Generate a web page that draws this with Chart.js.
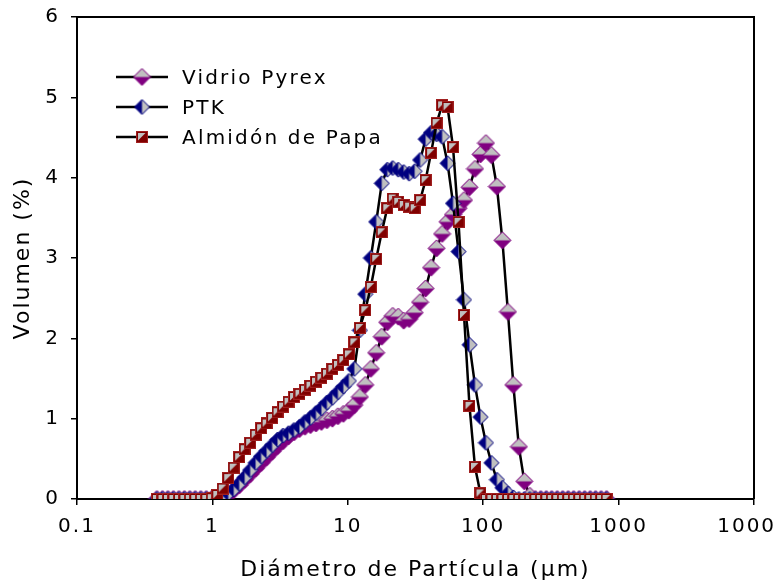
<!DOCTYPE html>
<html><head><meta charset="utf-8">
<script src="https://cdn.jsdelivr.net/npm/chart.js@4.4.1/dist/chart.umd.min.js"></script>
<style>
html,body{margin:0;padding:0;background:#fff;}
#wrap{position:relative;width:776px;height:583px;overflow:hidden;}
#legend{position:absolute;left:116px;top:62px;font-family:"DejaVu Sans",Verdana,sans-serif;font-size:20px;color:#000;letter-spacing:2.2px;}
.row{display:flex;align-items:center;height:30px;}
.row canvas{display:block;margin-right:14px;}
</style></head><body>
<div id="wrap"><canvas id="c" width="776" height="583"></canvas><div id="legend"></div></div>
<script>
// Particle diameter classes (µm)
const sizes = [0.389,0.428,0.469,0.515,0.566,0.621,0.681,0.747,0.821,0.901,0.989,1.086,1.192,1.308,1.437,1.577,1.730,1.900,2.085,2.289,2.513,2.759,3.028,3.325,3.650,4.006,4.397,4.828,5.299,5.817,6.386,7.010,7.695,8.447,9.272,10.18,11.18,12.27,13.46,14.78,16.22,17.81,19.56,21.47,23.56,25.87,28.39,31.17,34.21,37.56,41.23,45.26,49.68,54.54,59.87,65.72,72.14,79.20,86.93,95.43,104.7,115.0,126.2,138.6,152.2,167.0,183.3,201.3,220.9,242.5,266.2,292.2,320.7,352.1,386.6,424.3,465.9,511.3,561.4,616.2,676.4,742.5,815.0];
// Volumen (%)
const vidrio = [0,0,0,0,0,0,0,0,0,0,0,0,0.02,0.06,0.11,0.17,0.24,0.31,0.38,0.45,0.52,0.59,0.66,0.72,0.78,0.83,0.87,0.90,0.92,0.94,0.96,0.98,1.00,1.03,1.06,1.10,1.17,1.27,1.42,1.62,1.82,2.02,2.20,2.28,2.27,2.22,2.24,2.32,2.45,2.62,2.88,3.12,3.30,3.45,3.54,3.62,3.72,3.88,4.11,4.29,4.43,4.28,3.89,3.22,2.33,1.42,0.65,0.22,0.04,0,0,0,0,0,0,0,0,0,0,0,0,0,0];
const ptk = [0,0,0,0,0,0,0,0,0,0,0,0,0.03,0.07,0.12,0.19,0.27,0.36,0.45,0.53,0.60,0.67,0.74,0.79,0.82,0.86,0.90,0.96,1.01,1.07,1.13,1.20,1.26,1.33,1.40,1.47,1.62,2.10,2.55,3.00,3.45,3.93,4.10,4.12,4.10,4.07,4.05,4.08,4.22,4.48,4.56,4.54,4.51,4.18,3.68,3.08,2.48,1.92,1.42,1.02,0.70,0.45,0.24,0.14,0.07,0.02,0,0,0,0,0,0,0,0,0,0,0,0,0,0,0,0,0];
const almidon = [0,0,0,0,0,0,0,0,0,0,0.01,0.05,0.13,0.26,0.39,0.52,0.62,0.70,0.80,0.88,0.94,1.01,1.08,1.15,1.21,1.27,1.31,1.36,1.41,1.46,1.51,1.56,1.62,1.67,1.73,1.80,1.95,2.13,2.35,2.64,2.99,3.32,3.62,3.74,3.70,3.66,3.64,3.62,3.72,3.97,4.31,4.68,4.90,4.88,4.38,3.45,2.29,1.16,0.40,0.07,0,0,0,0,0,0,0,0,0,0,0,0,0,0,0,0,0,0,0,0,0,0,0];
const seriesNames = ['Vidrio Pyrex','PTK','Almidón de Papa'];
const xTicks = [0.1,1,10,100,1000,10000];
const xTickLabels = ['0.1','1','10','100','1000','10000'];
const yTickLabels = ['0','1','2','3','4','5','6'];
const xTitle = 'Diámetro de Partícula (µm)';
const yTitle = 'Volumen (%)';

const GRAY = '#C0C0C0', PURPLE = '#800080', NAVY = '#000080', DRED = '#800000';

function diamondPurple(r){
  const s = Math.ceil(2*r+2), c = document.createElement('canvas'); c.width = s; c.height = s;
  const g = c.getContext('2d'), m = s/2;
  g.beginPath(); g.moveTo(m,m-r); g.lineTo(m+r,m); g.lineTo(m,m+r); g.lineTo(m-r,m); g.closePath();
  g.fillStyle = PURPLE; g.fill();
  g.beginPath(); g.moveTo(m,m-r); g.lineTo(m+r,m); g.lineTo(m-r,m); g.closePath();
  g.fillStyle = GRAY; g.fill();
  g.beginPath(); g.moveTo(m,m-r); g.lineTo(m+r,m); g.lineTo(m,m+r); g.lineTo(m-r,m); g.closePath();
  g.strokeStyle = PURPLE; g.lineWidth = 1; g.stroke();
  return c;
}
function diamondBlue(r){
  const s = Math.ceil(2*r+2), c = document.createElement('canvas'); c.width = s; c.height = s;
  const g = c.getContext('2d'), m = s/2;
  g.beginPath(); g.moveTo(m,m-r); g.lineTo(m+r,m); g.lineTo(m,m+r); g.lineTo(m-r,m); g.closePath();
  g.fillStyle = NAVY; g.fill();
  g.beginPath(); g.moveTo(m,m-r); g.lineTo(m+r,m); g.lineTo(m,m+r); g.closePath();
  g.fillStyle = GRAY; g.fill();
  g.beginPath(); g.moveTo(m,m-r); g.lineTo(m+r,m); g.lineTo(m,m+r); g.lineTo(m-r,m); g.closePath();
  g.strokeStyle = NAVY; g.lineWidth = 1; g.stroke();
  return c;
}
function squareRed(s){
  const c = document.createElement('canvas'); c.width = s; c.height = s;
  const g = c.getContext('2d');
  g.fillStyle = DRED; g.fillRect(0,0,s,s);
  g.beginPath(); g.moveTo(2,2); g.lineTo(s-2.5,2); g.lineTo(2,s-2.5); g.closePath();
  g.fillStyle = GRAY; g.fill();
  g.strokeStyle = '#A02020'; g.lineWidth = 1; g.strokeRect(0.5,0.5,s-1,s-1);
  return c;
}
const mkP = diamondPurple(8.5), mkB = diamondBlue(7.5), mkR = squareRed(12);

function pts(arr){ return sizes.map((x,i)=>({x:x, y:arr[i]})); }

const frame = {
  id:'frame',
  beforeDraw(chart){ chart.ctx.letterSpacing = '2px'; },
  beforeDatasetsDraw(chart){
    const {ctx, chartArea:a} = chart;
    ctx.save(); ctx.strokeStyle = '#000'; ctx.lineWidth = 2;
    ctx.beginPath(); ctx.moveTo(a.left, a.top); ctx.lineTo(a.right, a.top); ctx.lineTo(a.right, a.bottom); ctx.stroke();
    ctx.restore();
  }
};

const common = {borderColor:'#000', borderWidth:2.5, tension:0, pointRadius:6, pointHoverRadius:6, fill:false};
new Chart(document.getElementById('c'), {
  type:'line',
  data:{datasets:[
    Object.assign({label:seriesNames[2], data:pts(almidon), pointStyle:mkR}, common),
    Object.assign({label:seriesNames[1], data:pts(ptk), pointStyle:mkB}, common),
    Object.assign({label:seriesNames[0], data:pts(vidrio), pointStyle:mkP}, common)
  ]},
  options:{
    responsive:false, devicePixelRatio:1, animation:false, events:[],
    layout:{padding:{top:17,right:22,left:0,bottom:0}},
    plugins:{legend:{display:false}, tooltip:{enabled:false}},
    scales:{
      x:{type:'logarithmic', min:0.1, max:10000,
        afterBuildTicks(s){ s.ticks = xTicks.map(v=>({value:v})); },
        afterFit(s){ s.height = 84; s.paddingLeft = 0; s.paddingRight = 0; },
        ticks:{autoSkip:false, maxRotation:0, minRotation:0, padding:10, color:'#000',
          font:{family:'DejaVu Sans', size:20},
          callback:(v,i)=>xTickLabels[i]},
        grid:{display:true, drawOnChartArea:false, drawTicks:true, tickLength:6, color:'#000', lineWidth:1.5},
        border:{display:true, color:'#000', width:2},
        title:{display:true, text:xTitle, color:'#000', font:{family:'DejaVu Sans', size:22}, padding:{top:0,bottom:0}}
      },
      y:{type:'linear', min:0, max:6,
        afterFit(s){ s.width = 77; s.paddingTop = 0; s.paddingBottom = 0; },
        ticks:{stepSize:1, padding:11, color:'#000', font:{family:'DejaVu Sans', size:20},
          callback:(v)=>yTickLabels[Math.round(v)]},
        grid:{display:true, drawOnChartArea:false, drawTicks:true, tickLength:6, color:'#000', lineWidth:1.5},
        border:{display:true, color:'#000', width:2},
        title:{display:true, text:yTitle, color:'#000', font:{family:'DejaVu Sans', size:22}, padding:{top:10,bottom:0}}
      }
    }
  },
  plugins:[frame]
});

// Legend (HTML overlay)
const legendMarks = [mkP, mkB, mkR];
const lg = document.getElementById('legend');
seriesNames.forEach((name,i)=>{
  const row = document.createElement('div'); row.className='row';
  const ic = document.createElement('canvas'); ic.width = 52; ic.height = 20;
  const g = ic.getContext('2d');
  g.strokeStyle = '#000'; g.lineWidth = 2.5; g.beginPath(); g.moveTo(0,10); g.lineTo(52,10); g.stroke();
  const m = legendMarks[i]; g.drawImage(m, 26 - m.width/2, 10 - m.height/2);
  const sp = document.createElement('span'); sp.textContent = name;
  row.appendChild(ic); row.appendChild(sp); lg.appendChild(row);
});
</script>
</body></html>
